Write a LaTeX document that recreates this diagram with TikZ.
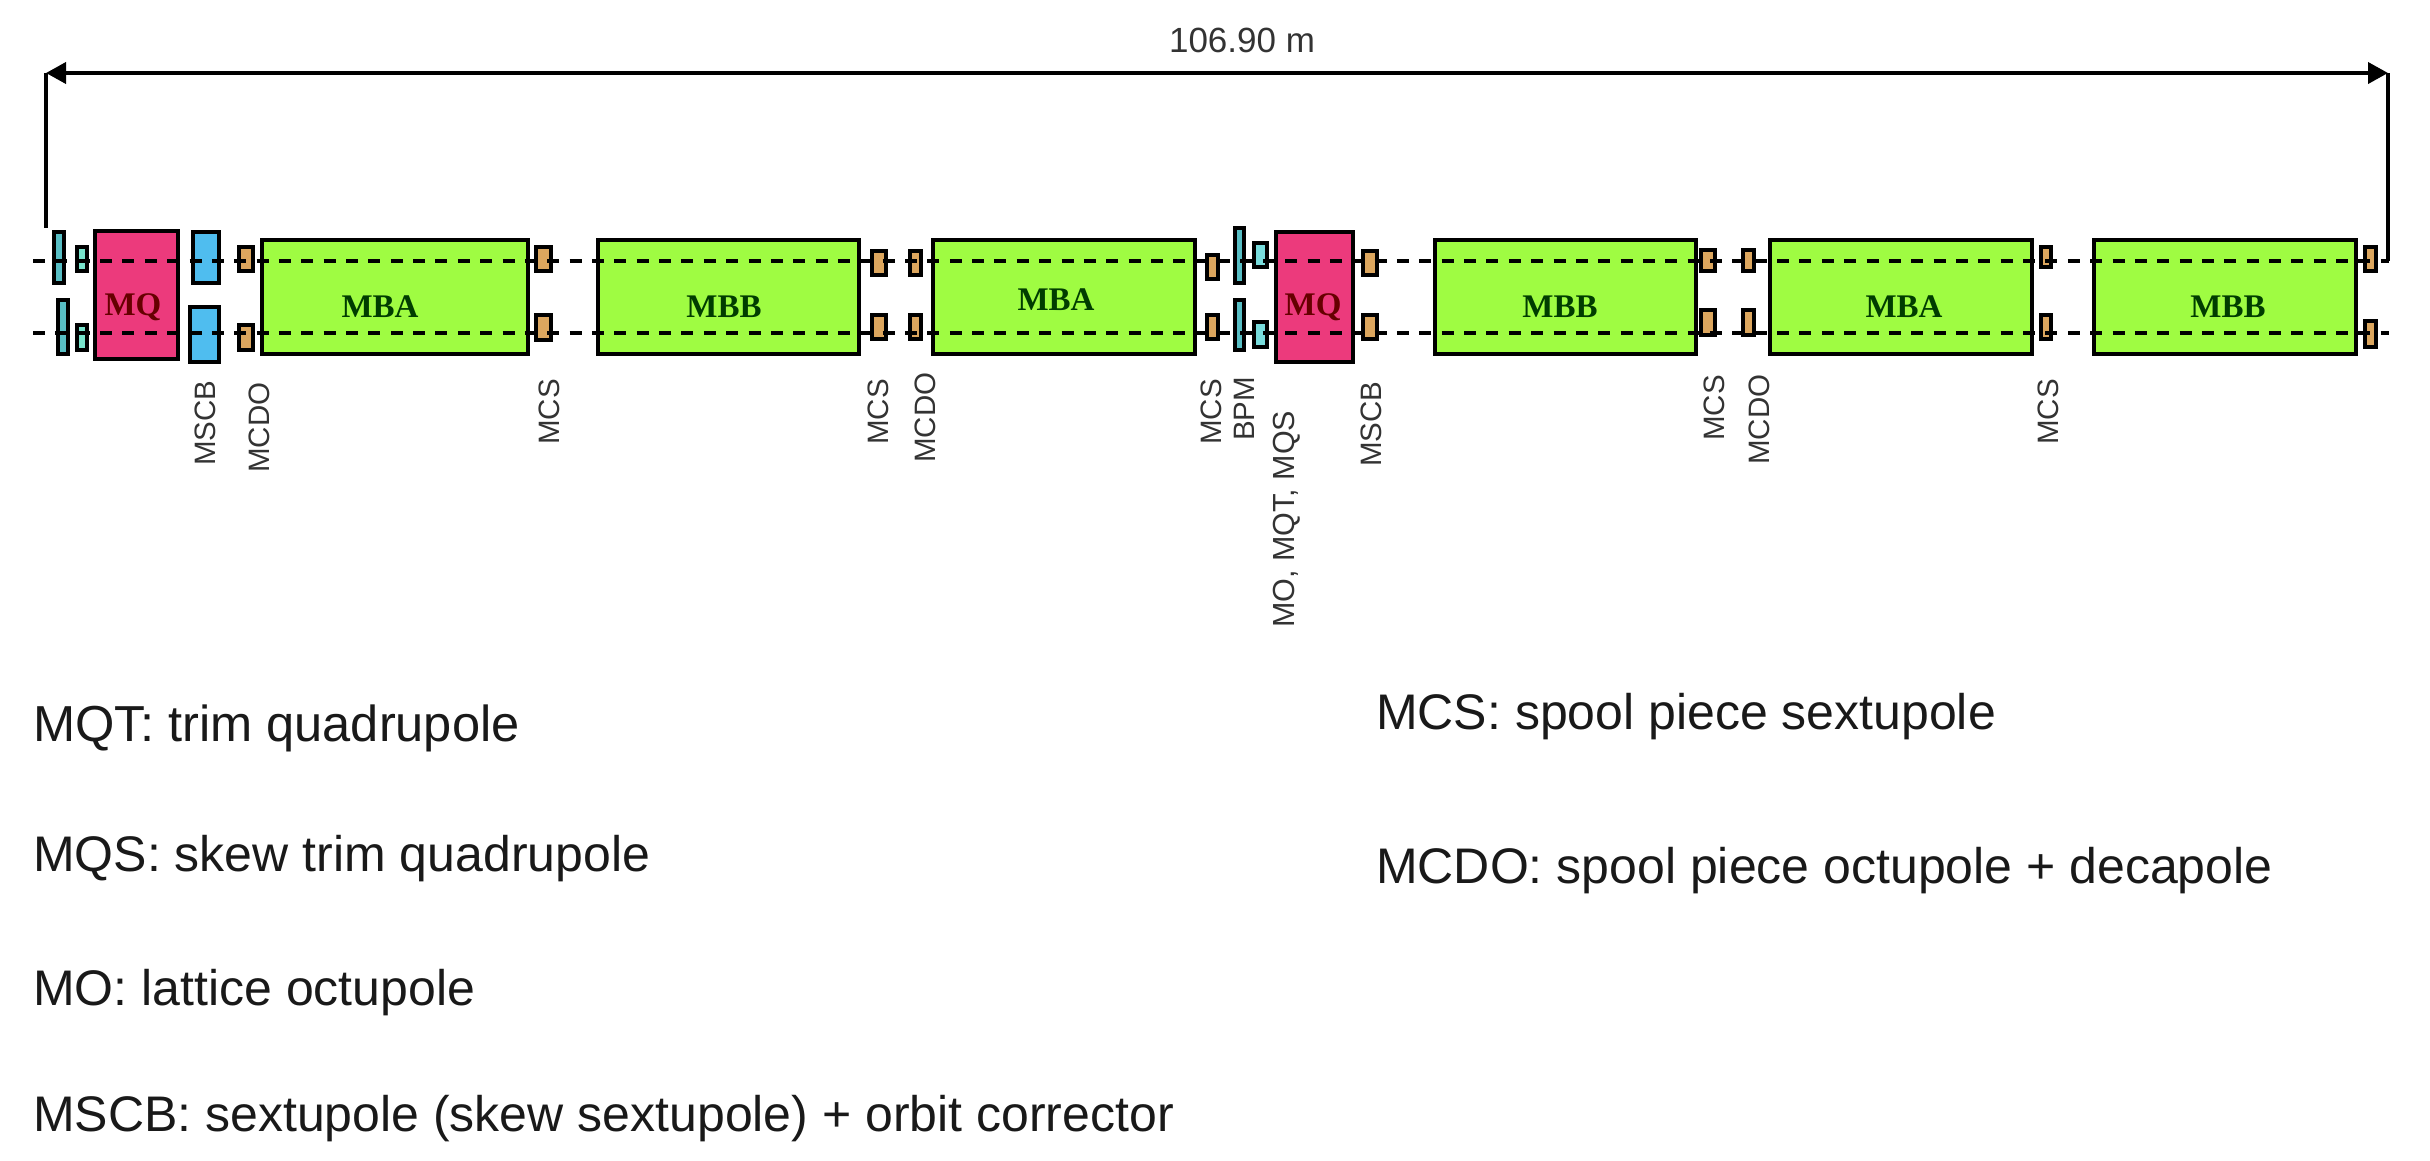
\documentclass[tikz,border=0pt]{standalone}
\usepackage{fontspec}
\setmainfont{Liberation Sans}
\newfontfamily\magfont{Liberation Serif}
\usetikzlibrary{arrows.meta}
\definecolor{cgreen}{HTML}{9FFC42}
\definecolor{cpink}{HTML}{EC3A7C}
\definecolor{cblue}{HTML}{4FBDEF}
\definecolor{cteal}{HTML}{58BEC4}
\definecolor{cmint}{HTML}{78E4CC}
\definecolor{cmintb}{HTML}{78DCDC}
\definecolor{corange}{HTML}{DCA65E}
\tikzset{
  elembox/.style={draw=black,line width=3.8pt,rectangle,inner sep=0pt,outer sep=0pt},
  dipole/.style={elembox,fill=cgreen},
  quad/.style={elembox,fill=cpink},
  mscb/.style={elembox,fill=cblue},
  bar/.style={elembox,fill=cteal},
  mint/.style={elembox,fill=cmint},
  mintb/.style={elembox,fill=cmintb},
  spool/.style={elembox,fill=corange},
  beam/.style={line width=3.4pt,black,dash pattern=on 12pt off 10.36pt},
  dimline/.style={line width=3.8pt,black},
  maglabel/.style={inner sep=0pt,font=\magfont\bfseries\fontsize{33}{36}\selectfont},
  maglabelg/.style={maglabel,text=black!60!green!60!black},
  maglabelr/.style={maglabel,text=black!60!red},
  taglabel/.style={rotate=90,anchor=west,inner sep=0pt,text height=21pt,text depth=0pt,text=black!80,font=\fontsize{29.5}{32}\selectfont},
  legend/.style={anchor=base west,inner sep=0pt,text=black!90,font=\fontsize{50}{60}\selectfont}
}
\newcommand{\elem}[6]{%
  \pgfmathsetmacro{\ew}{#3-#2-3.8}%
  \pgfmathsetmacro{\eh}{#5-#4-3.8}%
  \pgfmathsetmacro{\ecx}{(#2+#3)/2}%
  \pgfmathsetmacro{\ecy}{(#4+#5)/2}%
  \node[#6,minimum width=\ew pt,minimum height=\eh pt] (#1) at (\ecx,\ecy) {};%
}
\begin{document}
\begin{tikzpicture}[x=1pt,y=-1pt]
\useasboundingbox (0,0) rectangle (2430,1160);
% first half cell
\elem{barA1}{52}{66}{230}{285}{bar}
\elem{mintA1}{75}{89}{245}{273}{mint}
\elem{barA2}{56}{70}{298}{356}{bar}
\elem{mintA2}{75}{89}{323}{352}{mint}
\elem{mqA}{93}{180}{229}{361}{quad}
\elem{mscbA1}{191}{221}{230}{285}{mscb}
\elem{mscbA2}{188}{221}{305}{364}{mscb}
\elem{mcdoA1}{237}{255}{245}{273}{spool}
\elem{mcdoA2}{237}{255}{323}{352}{spool}
\elem{mba1}{260}{530}{238}{356}{dipole}
\elem{mcsA1}{534}{553}{245}{273}{spool}
\elem{mcsA2}{534}{553}{313}{342}{spool}
\elem{mbb1}{596}{861}{238}{356}{dipole}
\elem{mcsB1}{870}{888}{249}{277}{spool}
\elem{mcsB2}{870}{888}{313}{341}{spool}
\elem{mcdoB1}{908}{923}{249}{277}{spool}
\elem{mcdoB2}{908}{923}{313}{341}{spool}
\elem{mba2}{931}{1197}{238}{356}{dipole}
\elem{mcsC1}{1205}{1220}{253}{281}{spool}
\elem{mcsC2}{1205}{1220}{313}{341}{spool}
% second half cell
\elem{barB1}{1233}{1246}{226}{285}{bar}
\elem{barB2}{1233}{1246}{298}{352}{bar}
\elem{mintB1}{1252}{1269}{241}{269}{mintb}
\elem{mintB2}{1252}{1269}{320}{349}{mintb}
\elem{mqB}{1274}{1355}{230}{364}{quad}
\elem{mscbB1}{1361}{1379}{249}{277}{spool}
\elem{mscbB2}{1361}{1379}{313}{341}{spool}
\elem{mbb2}{1433}{1698}{238}{356}{dipole}
\elem{mcsD1}{1699}{1717}{248}{273}{spool}
\elem{mcsD2}{1699}{1717}{308}{337}{spool}
\elem{mcdoD1}{1741}{1756}{248}{273}{spool}
\elem{mcdoD2}{1741}{1756}{308}{337}{spool}
\elem{mba3}{1768}{2034}{238}{356}{dipole}
\elem{mcsE1}{2039}{2053}{245}{269}{spool}
\elem{mcsE2}{2039}{2053}{313}{341}{spool}
\elem{mbb3}{2092}{2358}{238}{356}{dipole}
\elem{mcsF1}{2363}{2378}{245}{273}{spool}
\elem{mcsF2}{2363}{2378}{319}{349}{spool}
% beam lines
\coordinate (beamTL) at (33,261);
\coordinate (beamTR) at (2389,261);
\coordinate (beamBL) at (33,333);
\coordinate (beamBR) at (2389,333);
\draw[beam] (beamTL) -- (beamTR);
\draw[beam] (beamBL) -- (beamBR);
% dimension
\coordinate (dimL) at (46,73);
\coordinate (dimR) at (2388,73);
\coordinate (dimLfoot) at (46,228);
\coordinate (dimRfoot) at (2388,261);
\draw[dimline,{Triangle[length=20pt,width=21pt]}-{Triangle[length=20pt,width=21pt]}] (dimL) -- (dimR);
\draw[dimline] (dimL) -- (dimLfoot);
\draw[dimline] (dimR) -- (dimRfoot);
\node[inner sep=0pt,anchor=base,text=black!80,font=\fontsize{35}{38}\selectfont] (dimtext) at (1242,52) {106.90 m};
% magnet names
\node[maglabelr] (tMQa) at (133,307) {MQ};
\node[maglabelg] (tMBa) at (380,307) {MBA};
\node[maglabelg] (tMBb) at (724,307) {MBB};
\node[maglabelg] (tMBc) at (1056,300) {MBA};
\node[maglabelr] (tMQb) at (1313,307) {MQ};
\node[maglabelg] (tMBd) at (1560,307) {MBB};
\node[maglabelg] (tMBe) at (1904,307) {MBA};
\node[maglabelg] (tMBf) at (2228,307) {MBB};
% rotated tags
\node[taglabel] (t1) at (205,466) {MSCB};
\node[taglabel] (t2) at (259,473) {MCDO};
\node[taglabel] (t3) at (549,445) {MCS};
\node[taglabel] (t4) at (878,445) {MCS};
\node[taglabel] (t5) at (925,463) {MCDO};
\node[taglabel] (t6) at (1211,445) {MCS};
\node[taglabel] (t7) at (1244,441) {BPM};
\node[taglabel,font=\fontsize{30.5}{32}\selectfont] (t8) at (1284,628) {MO, MQT, MQS};
\node[taglabel] (t9) at (1371,467) {MSCB};
\node[taglabel] (t10) at (1714,441) {MCS};
\node[taglabel] (t11) at (1759,465) {MCDO};
\node[taglabel] (t12) at (2048,445) {MCS};
% legend
\node[legend,font=\fontsize{50.6}{60}\selectfont] (l1) at (33,741) {MQT: trim quadrupole};
\node[legend] (l2) at (33,871) {MQS: skew trim quadrupole};
\node[legend] (l3) at (33,1005) {MO: lattice octupole};
\node[legend] (l4) at (33,1131) {MSCB: sextupole (skew sextupole) + orbit corrector};
\node[legend] (l5) at (1376,729) {MCS: spool piece sextupole};
\node[legend] (l6) at (1376,883) {MCDO: spool piece octupole + decapole};
\end{tikzpicture}
\end{document}
